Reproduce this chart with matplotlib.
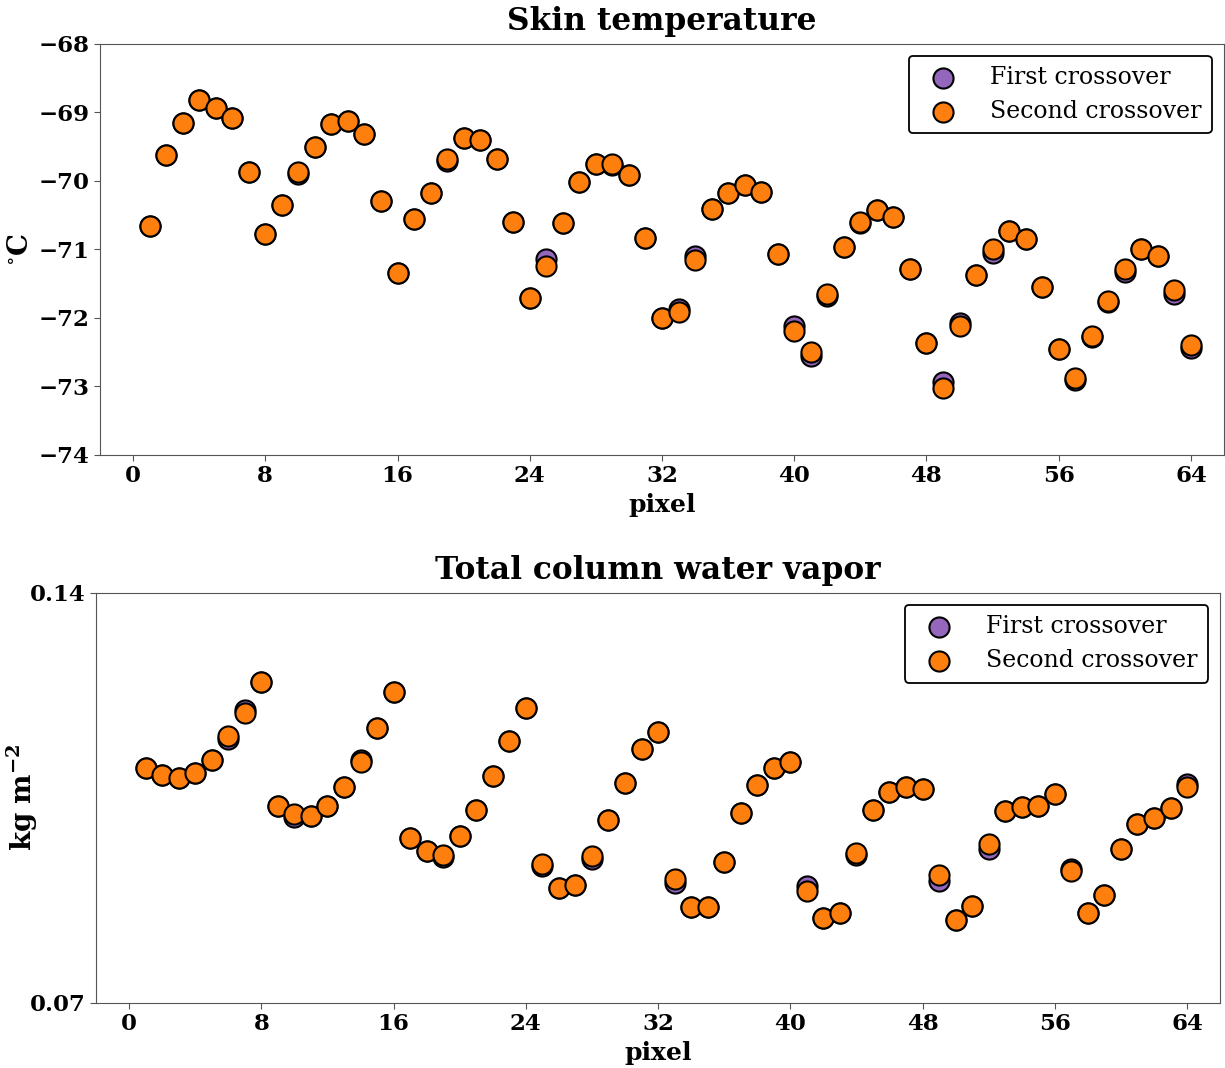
import matplotlib
matplotlib.use("Agg")
import matplotlib.pyplot as plt
import numpy as np

pixels = list(range(1, 65))

skin_first = [-70.66, -69.62, -69.15, -68.82, -68.93, -69.09, -69.87, -70.77, -70.35, -69.90,
              -69.50, -69.17, -69.12, -69.31, -70.29, -71.34, -70.56, -70.18, -69.71, -69.37,
              -69.41, -69.68, -70.60, -71.71, -71.14, -70.61, -70.01, -69.75, -69.77, -69.92,
              -70.84, -72.00, -71.87, -71.10, -70.41, -70.18, -70.06, -70.17, -71.07, -72.12,
              -72.55, -71.68, -70.97, -70.62, -70.43, -70.53, -71.28, -72.37, -72.93, -72.07,
              -71.38, -71.05, -70.73, -70.85, -71.55, -72.46, -72.90, -72.28, -71.77, -71.33,
              -70.99, -71.10, -71.65, -72.44]
skin_second = [-70.66, -69.62, -69.15, -68.82, -68.93, -69.09, -69.87, -70.77, -70.35, -69.87,
               -69.50, -69.17, -69.12, -69.31, -70.29, -71.34, -70.56, -70.18, -69.68, -69.37,
               -69.41, -69.68, -70.60, -71.71, -71.24, -70.61, -70.01, -69.75, -69.76, -69.92,
               -70.84, -72.00, -71.92, -71.15, -70.41, -70.18, -70.06, -70.17, -71.07, -72.19,
               -72.50, -71.65, -70.97, -70.60, -70.43, -70.53, -71.28, -72.37, -73.02, -72.12,
               -71.38, -71.00, -70.73, -70.85, -71.55, -72.46, -72.87, -72.26, -71.75, -71.29,
               -70.99, -71.10, -71.59, -72.40]

tcwv_first = [0.1101, 0.1089, 0.1084, 0.1092, 0.1115, 0.1150, 0.1200, 0.1248, 0.1037, 0.1018,
              0.1019, 0.1037, 0.1068, 0.1115, 0.1170, 0.1231, 0.0981, 0.0960, 0.0949, 0.0985,
              0.1030, 0.1087, 0.1147, 0.1203, 0.0933, 0.0897, 0.0901, 0.0945, 0.1012, 0.1076,
              0.1133, 0.1163, 0.0905, 0.0863, 0.0863, 0.0941, 0.1024, 0.1072, 0.1101, 0.1111,
              0.0899, 0.0845, 0.0853, 0.0952, 0.1030, 0.1060, 0.1069, 0.1066, 0.0908, 0.0842,
              0.0865, 0.0963, 0.1028, 0.1035, 0.1037, 0.1056, 0.0929, 0.0853, 0.0885, 0.0962,
              0.1006, 0.1016, 0.1032, 0.1073]
tcwv_second = [0.1101, 0.1089, 0.1084, 0.1092, 0.1115, 0.1155, 0.1195, 0.1248, 0.1037, 0.1023,
               0.1019, 0.1037, 0.1068, 0.1111, 0.1170, 0.1231, 0.0981, 0.0960, 0.0953, 0.0985,
               0.1030, 0.1087, 0.1147, 0.1203, 0.0938, 0.0897, 0.0901, 0.0950, 0.1012, 0.1076,
               0.1133, 0.1163, 0.0911, 0.0863, 0.0863, 0.0941, 0.1024, 0.1072, 0.1101, 0.1111,
               0.0891, 0.0845, 0.0853, 0.0956, 0.1030, 0.1060, 0.1069, 0.1066, 0.0918, 0.0842,
               0.0865, 0.0971, 0.1028, 0.1035, 0.1037, 0.1056, 0.0926, 0.0853, 0.0885, 0.0962,
               0.1006, 0.1016, 0.1032, 0.1069]

xticks = [0, 8, 16, 24, 32, 40, 48, 56, 64]
skin_yticks = [-74, -73, -72, -71, -70, -69, -68]
tcwv_yticks = [0.07, 0.14]

plt.rcParams['font.family'] = ['DejaVu Serif']
plt.rcParams['mathtext.fontset'] = 'dejavuserif'

fig = plt.figure(figsize=(12.25, 10.68), dpi=100)
ax1 = fig.add_axes([0.0816, 0.574, 0.9176, 0.385])
ax2 = fig.add_axes([0.0784, 0.0609, 0.9176, 0.384])

purple = '#9467bd'
orange = '#ff7f0e'

def style(ax, title, ylabel, yticks, ylim, ylabel_x):
    ax.set_xlim(-2, 66)
    ax.set_ylim(*ylim)
    ax.set_xticks(xticks)
    ax.set_yticks(yticks)
    ax.set_xticklabels([str(t) for t in xticks], fontweight='bold', fontsize=16.5)
    ax.set_yticklabels([('%g' % t).replace('-', '\u2212') for t in yticks], fontweight='bold', fontsize=16.5)
    ax.set_title(title, fontweight='bold', fontsize=22.5, pad=10)
    ax.set_xlabel('pixel', fontweight='bold', fontsize=18, labelpad=4)
    ax.set_ylabel(ylabel, fontweight='bold', fontsize=20)
    ax.yaxis.set_label_coords(ylabel_x, 0.5)
    for s in ax.spines.values():
        s.set_color('#555555')
    ax.tick_params(colors='#555555', labelcolor='black', length=4)
    leg = ax.legend(loc='upper right', fontsize=17, frameon=True, fancybox=True,
                    framealpha=1, edgecolor='black', borderpad=0.45, handletextpad=1.0,
                    labelspacing=0.45, borderaxespad=0.5)
    leg.get_frame().set_linewidth(1.3)

ax1.scatter(pixels, skin_first, s=210, c=purple, edgecolors='black', linewidths=1.5, label='First crossover', zorder=2)
ax1.scatter(pixels, skin_second, s=210, c=orange, edgecolors='black', linewidths=1.5, label='Second crossover', zorder=3)
style(ax1, 'Skin temperature', r'$^{\circ}\mathbf{C}$', skin_yticks, (-74, -68), -0.059)

ax2.scatter(pixels, tcwv_first, s=210, c=purple, edgecolors='black', linewidths=1.5, label='First crossover', zorder=2)
ax2.scatter(pixels, tcwv_second, s=210, c=orange, edgecolors='black', linewidths=1.5, label='Second crossover', zorder=3)
style(ax2, 'Total column water vapor', r'$\mathbf{kg\ m^{-2}}$', tcwv_yticks, (0.07, 0.14), -0.050)

fig.savefig('out.png', dpi=100)
